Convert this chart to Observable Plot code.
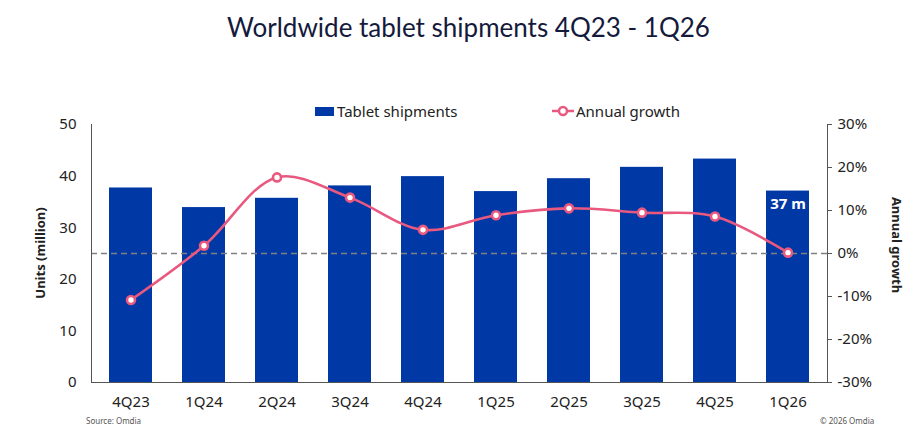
<!DOCTYPE html>
<html><head><meta charset="utf-8">
<script src="https://cdn.jsdelivr.net/npm/d3@7"></script>
<script src="https://cdn.jsdelivr.net/npm/@observablehq/plot@0.6"></script>
<style>
body{margin:0;background:#fff;}
#wrap{position:relative;width:915px;height:443px;overflow:hidden;font-family:"Noto Sans",sans-serif;color:#222;}
#chart{position:absolute;left:0;top:0;}
#title{position:absolute;top:11px;left:11px;width:915px;text-align:center;font-family:Lato,sans-serif;font-size:26px;color:#141a3c;}
.leg{position:absolute;top:101px;font-size:15px;display:flex;align-items:center;color:#222;}
.sw{display:inline-block;width:19px;height:9px;background:#0039A6;margin-right:3px;}
.ylab{position:absolute;font-weight:bold;font-size:13px;white-space:nowrap;}
.foot{position:absolute;top:415px;font-size:8px;color:#555;}
</style></head>
<body>
<div id="wrap">
  <div id="chart"></div>
  <div id="title">Worldwide tablet shipments 4Q23 - 1Q26</div>
  <div class="leg" style="left:315px;"><span class="sw"></span>Tablet shipments</div>
  <div class="leg" style="left:552px;"><svg width="22" height="12" style="margin-right:2px"><line x1="0" y1="6" x2="22" y2="6" stroke="#E9587F" stroke-width="2.5"/><circle cx="11" cy="6" r="4" fill="white" stroke="#E9587F" stroke-width="2.5"/></svg>Annual growth</div>
  <div class="ylab" style="left:40px;top:253px;transform:translate(-50%,-50%) rotate(-90deg);">Units (million)</div>
  <div class="ylab" style="left:897px;top:245px;transform:translate(-50%,-50%) rotate(90deg);">Annual growth</div>
  <div class="foot" style="left:86px;">Source: Omdia</div>
  <div class="foot" style="left:820px;">© 2026 Omdia</div>
</div>
<script>
const quarters = ["4Q23","1Q24","2Q24","3Q24","4Q24","1Q25","2Q25","3Q25","4Q25","1Q26"];
const shipments = [37.7, 33.9, 35.7, 38.1, 39.9, 37.0, 39.5, 41.7, 43.3, 37.1];
const growth = [-10.8, 1.8, 17.7, 13.0, 5.5, 8.9, 10.5, 9.5, 8.6, 0.2];
const leftTicks = [0, 10, 20, 30, 40, 50];
const rightTicks = [-30, -20, -10, 0, 10, 20, 30];
const barLabels = ["", "", "", "", "", "", "", "", "", "37 m"];

const yMax = 50, gMin = -30, gMax = 30;
const toY = g => (g - gMin) / (gMax - gMin) * yMax;
const fromY = y => y / yMax * (gMax - gMin) + gMin;

const data = quarters.map((q, i) => ({q, s: shipments[i], g: growth[i], gy: toY(growth[i]), label: barLabels[i]}));

const blue = "#0039A6", pink = "#E9587F";

const chart = Plot.plot({
  width: 915, height: 443,
  marginTop: 124, marginBottom: 61, marginLeft: 91, marginRight: 88,
  style: {fontFamily: "'Noto Sans', sans-serif", fontSize: "15px", color: "#222", background: "transparent"},
  x: {domain: quarters, paddingInner: 0.41, paddingOuter: 0.22},
  y: {domain: [0, yMax]},
  marks: [
    Plot.barY(data, {x: "q", y: "s", fill: blue}),
    Plot.ruleY([toY(0)], {stroke: "#808080", strokeWidth: 1.3, strokeDasharray: "6,4"}),
    Plot.line(data, {x: "q", y: "gy", curve: "catmull-rom", stroke: pink, strokeWidth: 2.6}),
    Plot.dot(data, {x: "q", y: "gy", r: 4, fill: "white", stroke: pink, strokeWidth: 2.6}),
    Plot.text(data, {x: "q", y: "s", text: "label", dy: 13, fill: "white", fontWeight: "bold", fontSize: 15}),
    Plot.axisY({ticks: leftTicks, tickSize: 0, tickPadding: 15, label: null, fontSize: 15}),
    Plot.axisY({anchor: "right", ticks: rightTicks.map(toY), tickFormat: d => Math.round(fromY(d)) + "%", tickSize: 4, tickPadding: 6, label: null, fontSize: 15, stroke: "#555"}),
    Plot.axisX({tickSize: 0, tickPadding: 14, label: null, fontSize: 15}),
    Plot.frame({anchor: "left", stroke: "#555"}),
    Plot.frame({anchor: "right", stroke: "#555"}),
    Plot.frame({anchor: "bottom", stroke: "#555"})
  ]
});
document.getElementById("chart").appendChild(chart);
</script>
</body></html>
